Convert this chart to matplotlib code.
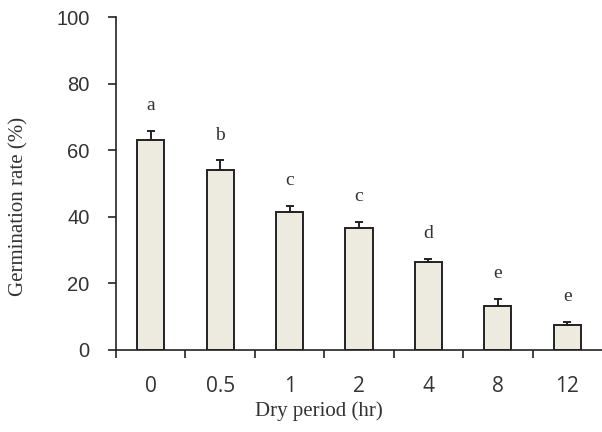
import numpy as np
import matplotlib
matplotlib.use('Agg')
import matplotlib.pyplot as plt

# data
periods = ['0', '0.5', '1', '2', '4', '8', '12']
rates = [63.0, 54.0, 41.5, 36.5, 26.5, 13.3, 7.5]
errors = [2.8, 3.0, 1.8, 1.9, 0.8, 2.0, 1.0]
letters = ['a', 'b', 'c', 'c', 'd', 'e', 'e']

serif = 'Liberation Serif'

fig = plt.figure(figsize=(6.02, 4.32), dpi=100)
ax = fig.add_axes([0.1927, 0.19, 0.8073, 0.7706])

x = np.arange(len(periods))
ax.bar(x, rates, width=0.39, color='#edebdf', edgecolor='#222222', linewidth=1.4,
       yerr=[np.zeros(len(errors)), errors],
       error_kw=dict(ecolor='#222222', elinewidth=1.4, capsize=3, capthick=1.4))

for xi, r, e, lab in zip(x, rates, errors, letters):
    ax.text(xi, r + e + 5.0, lab, ha='center', va='bottom',
            fontsize=14, family=serif, color='#333333')

ax.set_xlim(-0.5, 6.5)
ax.set_ylim(0, 100)
ax.set_yticks(np.arange(0, 101, 20))
ax.set_xticks(x)
ax.set_xticklabels(periods, family='Open Sans', fontsize=15)
ax.set_xticks(np.arange(-0.5, 6.0, 1.0), minor=True)
ax.tick_params(axis='x', which='major', length=0, pad=19, colors='#333333')
ax.tick_params(axis='x', which='minor', length=6, width=1.2, color='#222222')
ax.tick_params(axis='y', length=6, width=1.2, color='#222222',
               labelcolor='#333333', pad=13)
for t in ax.get_yticklabels():
    t.set_family('Liberation Sans')
    t.set_fontsize(14.5)

for s in ['top', 'right']:
    ax.spines[s].set_visible(False)
for s in ['left', 'bottom']:
    ax.spines[s].set_linewidth(1.2)
    ax.spines[s].set_color('#222222')

ax.set_xlabel('Dry period (hr)', family=serif, fontsize=15, color='#333333')
ax.xaxis.set_label_coords(0.418, -0.155)
ax.set_ylabel('Germination rate (%)', family=serif, fontsize=15, color='#333333')
ax.yaxis.set_label_coords(-0.18, 0.43)

fig.savefig('out.png', dpi=100)
